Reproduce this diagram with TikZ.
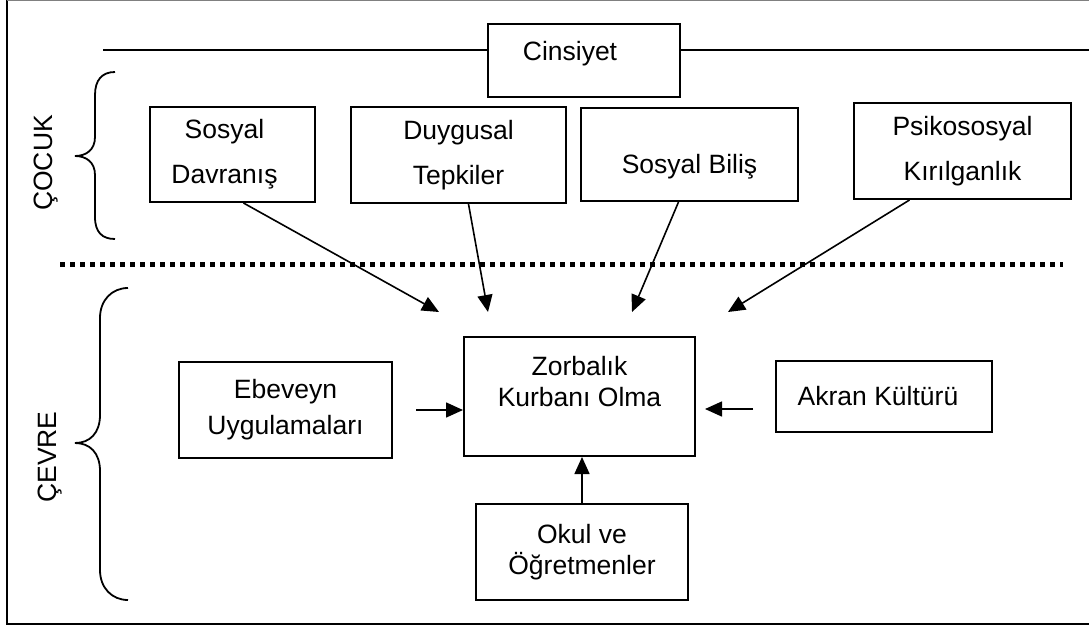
\documentclass[tikz,border=0pt]{standalone}
\usepackage{fontspec}
\setmainfont{Liberation Sans}
\usetikzlibrary{arrows.meta,calc}
\tikzset{
  box/.style={draw,line width=2pt,align=center,inner sep=0pt},
  arr/.style={-{Triangle[length=17pt,width=15pt]},line width=1.6pt},
  brc/.style={line width=1.8pt},
}
\begin{document}
\begin{tikzpicture}[x=1pt,y=-1pt,font=\fontsize{26.5}{31}\selectfont]
\useasboundingbox (0,0) rectangle (1089,627);
% frame
\draw[line width=2pt] (1089,624) -- (7,624) -- (7,0);
\draw[gray] (7,0.5) -- (1089,0.5);
% top row
\node[box,minimum width=192,minimum height=73] (cin) at (584,60.5) {\raisebox{0pt}[0pt][0pt]{Cinsiyet\hspace*{28pt}}};
\coordinate (gl) at (103,50);
\coordinate (gr) at (1089,50);
\draw[line width=2pt] (gl) -- (gl -| cin.west);
\draw[line width=2pt] (cin.east |- gr) -- (gr);
\node[box,minimum width=165,minimum height=95] (sd) at (232.5,154.5) {Sosyal\hspace*{16pt}\\[14pt]Davranış\hspace*{16pt}};
\node[box,minimum width=215,minimum height=96] (dt) at (458.5,155) {Duygusal\\[14pt]Tepkiler};
\node[box,minimum width=217,minimum height=93] (sb) at (689.5,154.5) {\raisebox{-19pt}[0pt][0pt]{Sosyal Biliş}};
\node[box,minimum width=217,minimum height=96] (psk) at (962.5,151) {Psikososyal\\[14pt]Kırılganlık};
% child / environment
\node[rotate=90] (cocuk) at (46,163) {ÇOCUK};
\node[rotate=90] (cevre) at (50,457) {ÇEVRE};
\draw[brc] (115,72) .. controls (102,72) and (95,80) .. (95,95) -- (95,137)
  .. controls (95,150) and (86,156) .. (75,156) .. controls (86,156) and (95,162) .. (95,175)
  -- (95,217) .. controls (95,232) and (102,239) .. (115,239);
\draw[brc] (128,288) .. controls (112,288) and (100,300) .. (100,318) -- (100,415)
  .. controls (100,433) and (90,443) .. (75,443) .. controls (90,443) and (100,453) .. (100,471)
  -- (100,570) .. controls (100,588) and (112,600) .. (128,600);
\draw[line width=5pt,dash pattern=on 5pt off 5pt] (60,264) -- (1063,264);
% bottom row
\node[box,minimum width=231,minimum height=119] (zor) at (579.5,396.5)
  {\raisebox{5pt}[0pt][0pt]{\begin{tabular}{@{}c@{}}Zorbalık\\Kurbanı Olma\end{tabular}}};
\node[box,minimum width=213,minimum height=96] (ebe) at (285.5,410) {Ebeveyn\\[5pt]Uygulamaları};
\node[box,minimum width=216,minimum height=71] (akr) at (884,396.5) {Akran Kültürü\hspace*{12pt}};
\node[box,minimum width=212,minimum height=96] (okul) at (582,552) {Okul ve\\Öğretmenler};
% arrows
\coordinate (t1) at (439,312);
\coordinate (t2) at (488,312);
\coordinate (t3) at (632,312);
\coordinate (t4) at (728,312);
\draw[arr] ($(sd.south)+(11,0)$) -- (t1);
\draw[arr] ($(dt.south)+(10,0)$) -- (t2);
\draw[arr] ($(sb.south)+(-11,0)$) -- (t3);
\draw[arr] ($(psk.south)+(-53,0)$) -- (t4);
\coordinate (e1) at (416,410);
\draw[arr] (e1) -- (e1 -| zor.west);
\coordinate (a1) at (753,409);
\coordinate (a2) at (705,409);
\draw[arr] (a1) -- (a2);
\draw[arr] (okul.north) -- (okul.north |- zor.south);
\end{tikzpicture}
\end{document}
